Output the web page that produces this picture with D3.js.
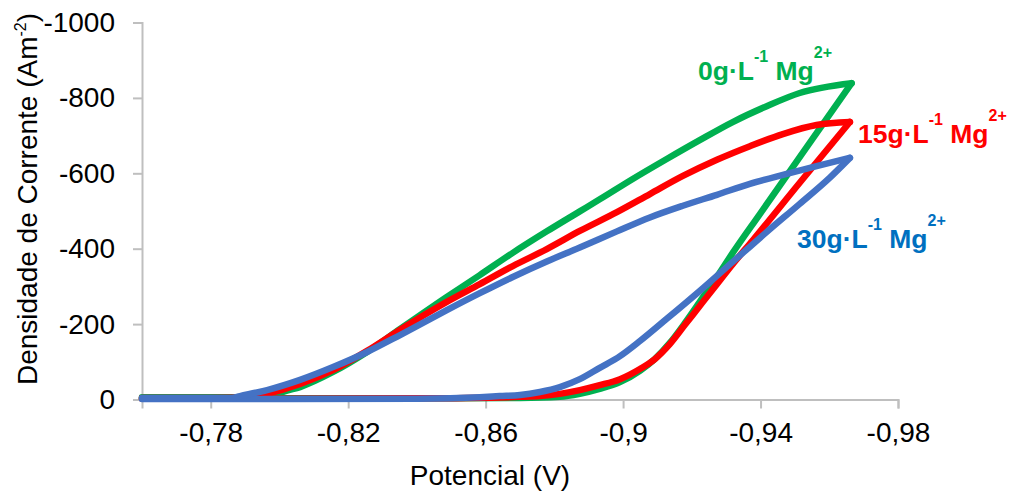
<!DOCTYPE html>
<html>
<head>
<meta charset="utf-8">
<script src="https://cdn.jsdelivr.net/npm/d3@7"></script>
<style>
  html, body { margin: 0; padding: 0; background: #fff; }
  svg { display: block; font-family: "Liberation Sans", Arial, sans-serif; }
</style>
</head>
<body>
<svg id="chart" width="1010" height="492"></svg>
<script>
// Cyclic voltammograms: [potential (V), current density (A/m²)] in sweep order
// (forward sweep to the vertex, then the reverse sweep back).
const mg0 = [
  [-0.760, -3], [-0.800, -3], [-0.840, -3], [-0.8700, -4], [-0.8816, -7],
  [-0.8874, -15], [-0.8932, -28], [-0.8991, -46], [-0.9049, -76],
  [-0.9092, -107], [-0.9136, -150], [-0.9180, -203], [-0.9223, -259],
  [-0.9273, -325], [-0.9319, -389], [-0.9398, -492], [-0.9514, -643],
  [-0.9665, -839],
  [-0.9514, -813], [-0.9418, -778], [-0.9319, -736], [-0.9223, -688],
  [-0.9127, -638], [-0.9028, -585], [-0.8932, -531], [-0.8874, -499],
  [-0.8778, -446], [-0.8679, -389], [-0.8583, -330], [-0.8487, -272],
  [-0.8351, -187], [-0.8255, -126], [-0.8156, -73], [-0.8060, -33],
  [-0.8010, -20], [-0.7985, -9], [-0.7900, -6], [-0.7600, -6]
];
const mg15 = [
  [-0.760, -2], [-0.800, -2], [-0.840, -3], [-0.8700, -7], [-0.8758, -9],
  [-0.8816, -15], [-0.8874, -25], [-0.8932, -38], [-0.8991, -54],
  [-0.9049, -81], [-0.9092, -107], [-0.9136, -147], [-0.9180, -198],
  [-0.9223, -248], [-0.9273, -306], [-0.9319, -359], [-0.9378, -423],
  [-0.9514, -575], [-0.9660, -736],
  [-0.9563, -728], [-0.9465, -704], [-0.9369, -672], [-0.9273, -636],
  [-0.9174, -593], [-0.9078, -545], [-0.8982, -497], [-0.8874, -447],
  [-0.8778, -399], [-0.8679, -354], [-0.8583, -306], [-0.8487, -259],
  [-0.8351, -185], [-0.8255, -129], [-0.8156, -78], [-0.8060, -41],
  [-0.7964, -15], [-0.7914, -6], [-0.7800, -4], [-0.7600, -4]
];
const mg30 = [
  [-0.760, -1], [-0.800, -1], [-0.840, -2], [-0.8583, -6], [-0.8641, -9],
  [-0.8700, -12], [-0.8758, -20], [-0.8816, -33], [-0.8874, -54],
  [-0.8932, -84], [-0.8991, -115], [-0.9049, -155], [-0.9127, -214],
  [-0.9223, -288], [-0.9319, -365], [-0.9415, -442], [-0.9514, -519],
  [-0.9601, -588], [-0.9660, -641],
  [-0.9563, -619], [-0.9465, -596], [-0.9369, -572], [-0.9273, -543],
  [-0.9174, -514], [-0.9078, -483], [-0.8982, -446], [-0.8874, -403],
  [-0.8778, -366], [-0.8679, -325], [-0.8583, -282], [-0.8487, -237],
  [-0.8351, -171], [-0.8255, -126], [-0.8156, -86], [-0.8060, -52],
  [-0.7964, -25], [-0.7885, -9], [-0.7860, -4], [-0.7600, -4]
];

const seriesNames = ["0g·L", "15g·L", "30g·L"];
const lineColors = ["#00B050", "#FF0000", "#4472C4"];
const labelColors = ["#00B050", "#FF0000", "#0070C0"];

const xTicks = [-0.78, -0.82, -0.86, -0.90, -0.94, -0.98];
const xTickLabels = ["-0,78", "-0,82", "-0,86", "-0,9", "-0,94", "-0,98"];
const yTicks = [0, -200, -400, -600, -800, -1000];
const yTickLabels = ["0", "-200", "-400", "-600", "-800", "-1000"];

const svg = d3.select("#chart");
const x = d3.scaleLinear().domain([-0.76, -0.98]).range([142, 898]);
const y = d3.scaleLinear().domain([0, -1000]).range([399.5, 22.5]);

const axisColor = "#BFBFBF";
const tickFont = 28;

function styleAxis(g) {
  g.attr("font-size", null).attr("font-family", null);
  g.select(".domain").attr("stroke", axisColor).attr("stroke-width", 2);
  g.selectAll(".tick line").attr("stroke", axisColor).attr("stroke-width", 2);
  g.selectAll(".tick text").attr("fill", "#000").style("font-size", tickFont + "px");
}

// Y axis
svg.append("g").attr("transform", `translate(${x.range()[0]},0)`)
  .call(d3.axisLeft(y).tickValues(yTicks).tickSize(9).tickPadding(18)
        .tickFormat((d, i) => yTickLabels[i]))
  .call(styleAxis);

// X axis
svg.append("g").attr("transform", `translate(0,${y(0)})`)
  .call(d3.axisBottom(x).tickValues(xTicks).tickSize(9).tickPadding(14)
        .tickFormat((d, i) => xTickLabels[i]))
  .call(styleAxis);

// Axis titles
svg.append("text")
  .attr("x", 490)
  .attr("y", 485)
  .attr("text-anchor", "middle")
  .style("font-size", tickFont + "px")
  .text("Potencial (V)");

const yTitle = svg.append("text")
  .attr("transform", "translate(37,199) rotate(-90)")
  .attr("text-anchor", "middle")
  .style("font-size", "28px");
yTitle.append("tspan").text("Densidade de Corrente (Am");
yTitle.append("tspan").attr("dy", -11).style("font-size", "16px").text("-2");
yTitle.append("tspan").attr("dy", 11).text(")");

// Curves: forward and reverse branches drawn separately so the vertex stays sharp
const line = d3.line()
  .x(d => x(d[0]))
  .y(d => y(d[1]))
  .curve(d3.curveMonotoneX);

[mg0, mg15, mg30].forEach((data, i) => {
  const v = d3.minIndex(data, d => d[0]);
  const forward = data.slice(0, v + 1);
  const reverse = data.slice(v).reverse();
  [forward, reverse].forEach(branch => {
    svg.append("path")
      .datum(branch)
      .attr("fill", "none")
      .attr("stroke", lineColors[i])
      .attr("stroke-width", 6.5)
      .attr("stroke-linejoin", "round")
      .attr("stroke-linecap", "round")
      .attr("d", line);
  });
});

// Series labels
const labelPos = [[698, 80], [858, 143], [797, 248]];
seriesNames.forEach((name, i) => {
  const t = svg.append("text")
    .attr("x", labelPos[i][0])
    .attr("y", labelPos[i][1])
    .attr("fill", labelColors[i])
    .attr("font-weight", "bold")
    .style("font-size", "26.5px");
  t.append("tspan").text(name);
  t.append("tspan").attr("dy", -18).style("font-size", "16px").text("-1");
  t.append("tspan").attr("dy", 18).text(" Mg");
  t.append("tspan").attr("dy", -22).style("font-size", "16px").text("2+");
});
</script>
</body>
</html>
